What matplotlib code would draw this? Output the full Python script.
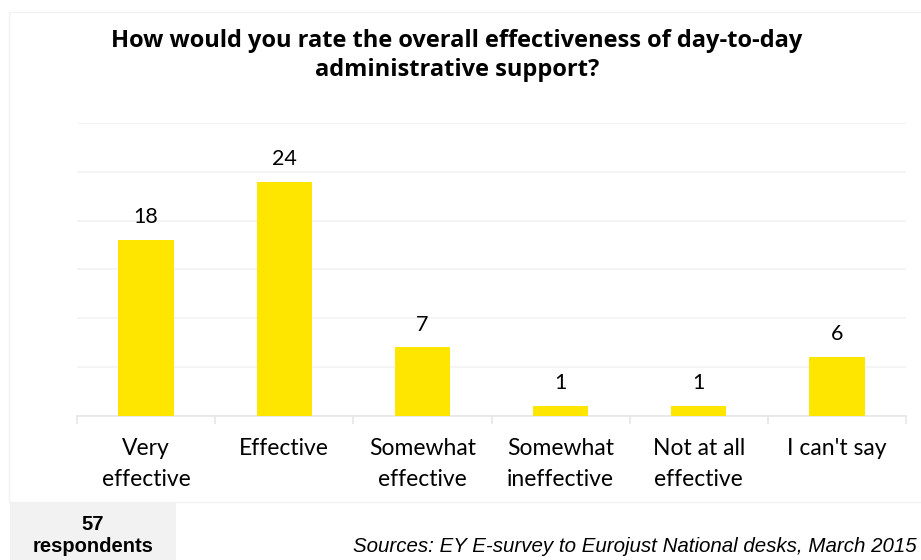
import matplotlib.pyplot as plt
from matplotlib.patches import Rectangle

categories = ['Very\neffective', 'Effective', 'Somewhat\neffective',
              'Somewhat\nineffective', 'Not at all\neffective', "I can't say"]
responses = [18, 24, 7, 1, 1, 6]
y_ticks = [0, 5, 10, 15, 20, 25, 30]

title = 'How would you rate the overall effectiveness of day-to-day\nadministrative support?'
source_note = 'Sources: EY E-survey to Eurojust National desks, March 2015'
respondents_note = '57\nrespondents'

yellow = '#FFE600'
grid_grey = '#F2F2F2'

fig = plt.figure(figsize=(9.21, 5.6), dpi=100)

# faint chart-area border (runs off the right edge like the original)
fig.add_artist(Rectangle((9 / 921, 1 - 502 / 560), 1.1, (502 - 12) / 560,
                         transform=fig.transFigure, fill=False,
                         edgecolor=grid_grey, linewidth=1))

ax = fig.add_axes([77 / 921, 1 - 415.5 / 560, (906 - 77) / 921, (415.5 - 123) / 560])
x = list(range(len(categories)))
bars = ax.bar(x, responses, width=0.4, color=yellow, zorder=3)
ax.set_xlim(-0.5, len(categories) - 0.5)
ax.set_ylim(0, 30)
ax.set_yticks(y_ticks)
ax.set_yticklabels([])
ax.tick_params(axis='y', length=0)
ax.grid(axis='y', color=grid_grey, linewidth=1.2, zorder=0)
for side in ['top', 'right', 'left']:
    ax.spines[side].set_visible(False)
ax.spines['bottom'].set_color('#E6E6E6')
ax.spines['bottom'].set_linewidth(1.2)

ax.set_xticks(x)
ax.set_xticklabels(categories, fontfamily='Lato', fontsize=16.5,
                   linespacing=1.55, va='top')
ax.tick_params(axis='x', length=0, pad=16.5)
# category separators below the axis
ax.set_xticks([i - 0.5 for i in range(len(categories) + 1)], minor=True)
ax.tick_params(axis='x', which='minor', length=6, color='#E6E6E6', width=1.2)

for bar, val in zip(bars, responses):
    ax.annotate(str(val), (bar.get_x() + bar.get_width() / 2, val),
                xytext=(0, 12), textcoords='offset points',
                ha='center', va='baseline', fontfamily='Lato', fontsize=15.5)

fig.text(457 / 921, 1 - 76 / 560, title, ha='center', va='baseline',
         fontfamily='Open Sans', fontweight='bold', fontsize=17, linespacing=1.3)

# respondents box
fig.add_artist(Rectangle((10 / 921, 0), 166 / 921, 58 / 560,
                         transform=fig.transFigure, facecolor='#F2F2F2',
                         edgecolor='none'))
fig.text(93 / 921, 1 - 551.5 / 560, respondents_note, ha='center', va='baseline',
         fontfamily='Liberation Sans', fontweight='bold', fontsize=14.5,
         linespacing=1.15)

fig.text(917 / 921, 1 - 551.5 / 560, source_note, ha='right', va='baseline',
         fontfamily='Liberation Sans', fontstyle='italic', fontsize=14.8)

fig.savefig('out.png', dpi=100)
